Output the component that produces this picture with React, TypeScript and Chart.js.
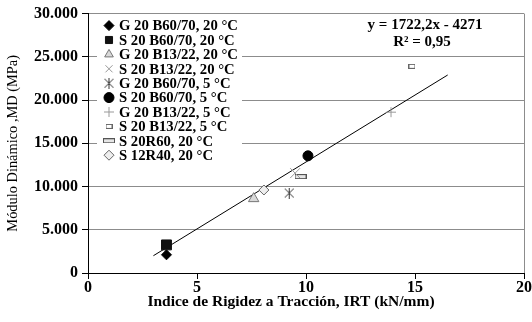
import React, { useEffect, useRef } from 'react';
import { Chart, registerables } from 'chart.js';
import { drawPoint } from 'chart.js/helpers';

Chart.register(...registerables);

const seriesLabels = [
  'G 20 B60/70, 20 °C',
  'S 20 B60/70, 20 °C',
  'G 20 B13/22, 20 °C',
  'S 20 B13/22, 20 °C',
  'G 20 B60/70, 5 °C',
  'S 20 B60/70, 5 °C',
  'G 20 B13/22, 5 °C',
  'S 20 B13/22, 5 °C',
  'S 20R60, 20 °C',
  'S 12R40, 20 °C',
];
const seriesX = [3.6, 3.6, 7.6, 9.5, 9.23, 10.09, 13.9, 14.86, 9.75, 8.07];
const seriesY = [2100, 3250, 8600, 11550, 9250, 13550, 18600, 23900, 11150, 9600];

const trendX = [3.0, 16.5];
const trendY = [2000, 22900];

const xTickLabels = ['0', '5', '10', '15', '20'];
const yTickLabels = ['0', '5.000', '10.000', '15.000', '20.000', '25.000', '30.000'];

const equationLines = ['y = 1722,2x - 4271', 'R² = 0,95'];
const xTitle = 'Indice de Rigidez a Tracción, IRT (kN/mm)';
const yTitle = 'Módulo Dinámico ,MD (MPa)';

const SERIF = "'Liberation Serif', 'Times New Roman', serif";

function makeCanvas(w: number, h: number, draw: (c: CanvasRenderingContext2D) => void) {
  const c = document.createElement('canvas');
  c.width = w;
  c.height = h;
  const ctx = c.getContext('2d')!;
  draw(ctx);
  return c;
}

export default function App() {
  const ref = useRef<HTMLCanvasElement | null>(null);

  useEffect(() => {
    if (!ref.current) return;

    const asterisk = makeCanvas(11, 11, (c) => {
      c.strokeStyle = '#333';
      c.lineWidth = 1;
      c.beginPath();
      c.moveTo(1, 1); c.lineTo(10, 10);
      c.moveTo(10, 1); c.lineTo(1, 10);
      c.moveTo(5.5, 0); c.lineTo(5.5, 11);
      c.stroke();
    });
    const smallRect = makeCanvas(7, 5, (c) => {
      c.fillStyle = '#fff';
      c.fillRect(1, 1, 5, 3);
      c.strokeStyle = '#666';
      c.lineWidth = 1;
      c.strokeRect(0.5, 0.5, 6, 4);
    });
    const dashRect = makeCanvas(12, 5, (c) => {
      c.fillStyle = '#e6e6e6';
      c.fillRect(1, 1, 10, 3);
      c.strokeStyle = '#555';
      c.lineWidth = 1;
      c.strokeRect(0.5, 0.5, 11, 4);
    });

    const styles: any[] = [
      { pointStyle: 'rectRot', radius: 5, bg: '#000', border: '#000', bw: 1 },
      { pointStyle: 'rect', radius: 7, bg: '#111', border: '#111', bw: 1 },
      { pointStyle: 'triangle', radius: 6, bg: '#d9d9d9', border: '#777', bw: 1 },
      { pointStyle: 'crossRot', radius: 7, bg: '#999', border: '#999', bw: 1 },
      { pointStyle: asterisk, radius: 6, bg: '#333', border: '#333', bw: 1 },
      { pointStyle: 'circle', radius: 5, bg: '#000', border: '#000', bw: 1 },
      { pointStyle: 'cross', radius: 5, bg: '#999', border: '#999', bw: 1 },
      { pointStyle: smallRect, radius: 4, bg: '#fff', border: '#666', bw: 1 },
      { pointStyle: dashRect, radius: 5, bg: '#e6e6e6', border: '#555', bw: 1 },
      { pointStyle: 'rectRot', radius: 5, bg: '#eee', border: '#666', bw: 1 },
    ];

    const scatterSets = seriesLabels.map((label, i) => ({
      type: 'scatter' as const,
      label,
      data: [{ x: seriesX[i], y: seriesY[i] }],
      pointStyle: styles[i].pointStyle,
      pointRadius: styles[i].radius,
      pointBackgroundColor: styles[i].bg,
      pointBorderColor: styles[i].border,
      pointBorderWidth: styles[i].bw,
      backgroundColor: styles[i].bg,
      borderColor: styles[i].border,
    }));

    const trendSet = {
      type: 'line' as const,
      label: 'trend',
      data: trendX.map((x, i) => ({ x, y: trendY[i] })),
      borderColor: '#000',
      borderWidth: 1,
      pointRadius: 0,
      fill: false,
    };

    const legendPlugin = {
      id: 'customLegend',
      beforeDatasetsDraw(chart: any) {
        const ctx = chart.ctx as CanvasRenderingContext2D;
        const area = chart.chartArea;
        const boxL = area.left + 9;
        const boxT = area.top + 4;
        ctx.save();
        ctx.fillStyle = '#fff';
        ctx.fillRect(boxL, boxT, 145, 146);
        ctx.font = `bold 14.7px ${SERIF}`;
        ctx.textBaseline = 'middle';
        ctx.textAlign = 'left';
        seriesLabels.forEach((label, i) => {
          const y = area.top + 12 + i * 14.4;
          const s = styles[i];
          ctx.fillStyle = s.bg;
          ctx.strokeStyle = s.border;
          ctx.lineWidth = s.bw;
          drawPoint(ctx, { pointStyle: s.pointStyle, radius: Math.min(s.radius, 5), rotation: 0, borderWidth: s.bw } as any, boxL + 12, y);
          ctx.fillStyle = '#000';
          ctx.fillText(label, boxL + 22, y + 1);
        });
        ctx.restore();
      },
      afterDraw(chart: any) {
        const ctx = chart.ctx as CanvasRenderingContext2D;
        const area = chart.chartArea;
        ctx.save();
        ctx.font = `bold 15px ${SERIF}`;
        ctx.fillStyle = '#000';
        ctx.textAlign = 'center';
        ctx.textBaseline = 'middle';
        ctx.fillText(equationLines[0], area.right - 99, area.top + 12);
        ctx.fillText(equationLines[1], area.right - 102, area.top + 29);
        ctx.font = `bold 15.5px ${SERIF}`;
        ctx.fillText(xTitle, area.left + 203, area.bottom + 29);
        ctx.restore();
      },
    };

    const chart = new Chart(ref.current, {
      type: 'scatter',
      data: { datasets: [...scatterSets, trendSet] as any },
      options: {
        animation: false,
        responsive: false,
        devicePixelRatio: 1,
        layout: { padding: { left: 0, right: 8, top: 13, bottom: 0 } },
        plugins: {
          legend: { display: false },
          tooltip: { enabled: false },
        },
        scales: {
          x: {
            type: 'linear',
            min: 0,
            max: 20,
            afterFit: (scale: any) => { scale.height = 49; },
            ticks: {
              stepSize: 5,
              color: '#000',
              padding: -1,
              font: { family: SERIF, size: 16, weight: 'bold' },
              callback: (_v: any, i: number) => xTickLabels[i],
            },
            grid: {
              color: (c: any) => (c.tick && c.tick.value === 20 ? '#8c8c8c' : 'rgba(0,0,0,0)'),
              tickColor: '#000',
              tickLength: 6,
              lineWidth: 1,
            },
            border: { color: '#000', width: 1 },
            title: { display: false },
          },
          y: {
            type: 'linear',
            min: 0,
            max: 30000,
            afterFit: (scale: any) => { scale.width = 88; },
            ticks: {
              stepSize: 5000,
              color: '#000',
              padding: 4,
              font: { family: SERIF, size: 16, weight: 'bold' },
              callback: (_v: any, i: number) => yTickLabels[i],
            },
            grid: {
              color: (c: any) => (c.tick && c.tick.value === 0 ? 'rgba(0,0,0,0)' : '#8c8c8c'),
              tickColor: '#000',
              tickLength: 6,
              lineWidth: 1,
            },
            border: { color: '#000', width: 1 },
            title: {
              display: true,
              text: yTitle,
              color: '#000',
              font: { family: SERIF, size: 14.4, weight: 'normal' },
              padding: { top: 5, bottom: 0 },
            },
          },
        },
      },
      plugins: [legendPlugin],
    });

    return () => chart.destroy();
  }, []);

  return (
    <div style={{ position: 'absolute', left: 0, top: 0, width: 532, height: 322, background: '#fff' }}>
      <canvas ref={ref} width={532} height={322} style={{ display: 'block' }} />
    </div>
  );
}
